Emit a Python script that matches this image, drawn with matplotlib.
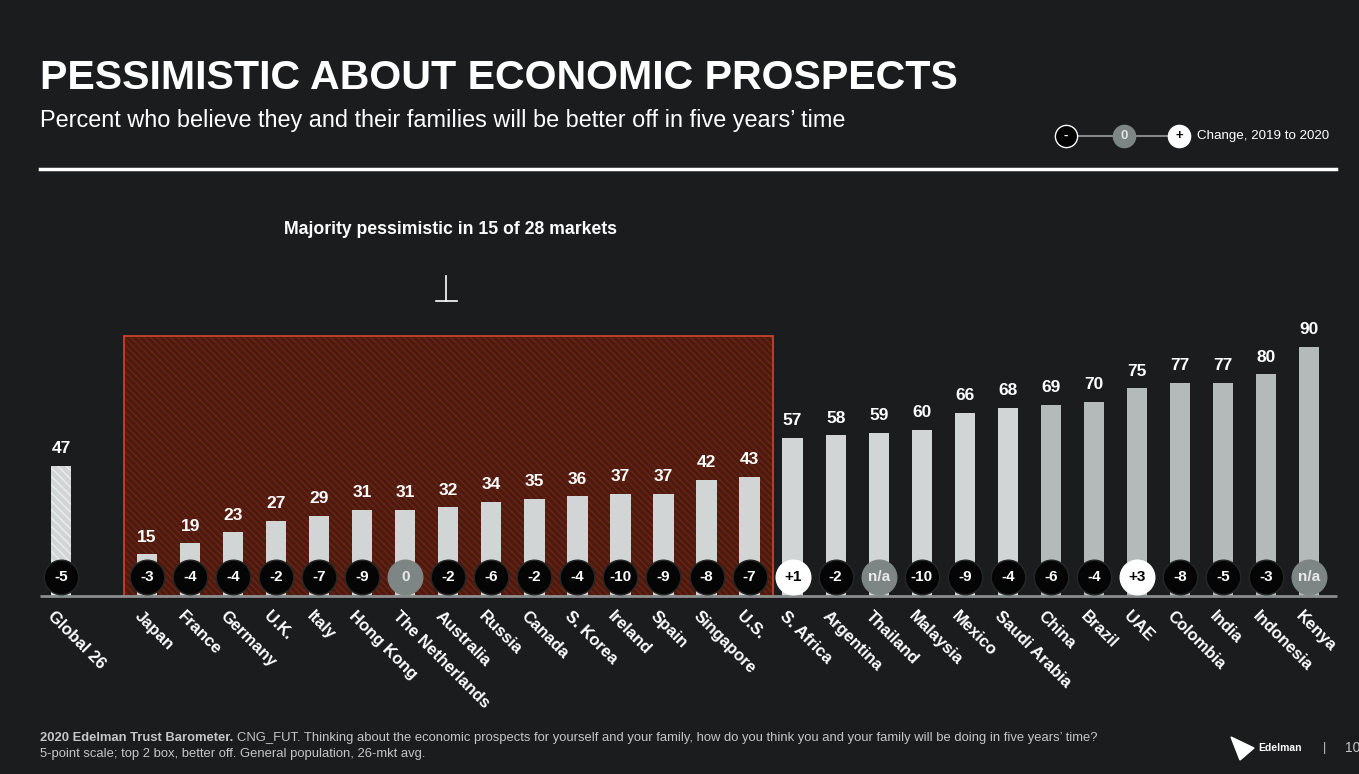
import matplotlib
matplotlib.use("Agg")
import matplotlib.pyplot as plt
from matplotlib.patches import Rectangle

plt.rcParams['font.family'] = ['Liberation Sans', 'DejaVu Sans']
plt.rcParams['hatch.linewidth'] = 1.0

markets = ["Global 26", "Japan", "France", "Germany", "U.K.", "Italy", "Hong Kong",
           "The Netherlands", "Australia", "Russia", "Canada", "S. Korea", "Ireland",
           "Spain", "Singapore", "U.S.", "S. Africa", "Argentina", "Thailand", "Malaysia",
           "Mexico", "Saudi Arabia", "China", "Brazil", "UAE", "Colombia", "India",
           "Indonesia", "Kenya"]
values = [47, 15, 19, 23, 27, 29, 31, 31, 32, 34, 35, 36, 37, 37, 42, 43,
          57, 58, 59, 60, 66, 68, 69, 70, 75, 77, 77, 80, 90]
changes = ["-5", "-3", "-4", "-4", "-2", "-7", "-9", "0", "-2", "-6", "-2", "-4", "-10",
           "-9", "-8", "-7", "+1", "-2", "n/a", "-10", "-9", "-4", "-6", "-4", "+3",
           "-8", "-5", "-3", "n/a"]
# slot positions: one empty slot between Global and the markets
positions = [0] + list(range(2, 30))

BG = "#1a1c1e"
LIGHT = "#d1d5d5"
DARK = "#b4bab9"
GREY_DOT = "#7d8684"
FOOT = "#c4c7c8"

fig = plt.figure(figsize=(13.59, 7.74), dpi=100, facecolor=BG)
ax = fig.add_axes([40 / 1359, 178 / 774, 1297 / 1359, 277 / 774])
ax.set_facecolor(BG)
ax.set_xlim(-0.488, 29.65)
ax.set_ylim(0, 100)
for s in ax.spines.values():
    s.set_visible(False)
ax.set_xticks([])
ax.set_yticks([])

# red highlighted region (majority pessimistic)
ax.add_patch(Rectangle((1.46, 0), 16.55 - 1.46, 93.9, facecolor="#4d1a0f",
                       edgecolor="#6a2515", hatch="\\\\\\\\\\", lw=0, zorder=1))
ax.add_patch(Rectangle((1.46, 0), 16.55 - 1.46, 93.9, fill=False,
                       edgecolor="#d2452f", lw=1.2, zorder=2))

bar_colors = [LIGHT] * 22 + [DARK] * 7
bars = ax.bar(positions, values, width=0.47, color=bar_colors, zorder=3)
bars[0].set_hatch("\\\\\\\\")
bars[0].set_edgecolor("#eceeee")
bars[0].set_linewidth(0)

ax.plot([-0.488, 29.65], [0, 0], color="#8a8d8e", lw=2, zorder=4,
        clip_on=False, solid_capstyle="butt")

for x, v in zip(positions, values):
    ax.annotate(str(v), (x, v), xytext=(0, 7), textcoords="offset points",
                ha="center", va="bottom", color="white", fontsize=12.5,
                fontweight="bold", zorder=6)

for x, c in zip(positions, changes):
    if c.startswith("+"):
        fc, tc, ec = "white", "black", "white"
    elif c in ("0", "n/a"):
        fc, tc, ec = GREY_DOT, "#e8eaea", GREY_DOT
    else:
        fc, tc, ec = "#050505", "white", "#262828"
    ax.scatter([x], [6.9], s=620, color=fc, edgecolors=ec, linewidths=1, zorder=7)
    ax.text(x, 6.9, c, ha="center", va="center", color=tc, fontsize=11,
            fontweight="bold", zorder=8)

for x, m in zip(positions, markets):
    ax.text(x - 0.12, -4.5, m, rotation=-45, rotation_mode="anchor", ha="left",
            va="top", color="white", fontsize=12, fontweight="bold")

# headings
fig.text(40 / 1359, 1 - 78 / 774, "PESSIMISTIC ABOUT ECONOMIC PROSPECTS", color="white",
         fontsize=29.6, fontweight="bold", va="center", ha="left")
fig.text(40 / 1359, 1 - 120 / 774,
         "Percent who believe they and their families will be better off in five years\u2019 time",
         color="white", fontsize=16.9, va="center", ha="left")
fig.add_artist(plt.Line2D([40 / 1359, 1336 / 1359], [1 - 169 / 774, 1 - 169 / 774],
                          color="white", lw=2.5))

# legend
ly = 1 - 136 / 774
fig.add_artist(plt.Line2D([1066 / 1359, 1179 / 1359], [ly, ly], color="#9a9d9e", lw=1.2))
for lx, fc, ec, t, tc in [(1066, "black", "white", "-", "white"),
                          (1124, GREY_DOT, GREY_DOT, "0", "#dfe2e2"),
                          (1179, "white", "white", "+", "black")]:
    fig.add_artist(plt.Line2D([lx / 1359], [ly], marker="o", markersize=16,
                              markerfacecolor=fc, markeredgecolor=ec, markeredgewidth=1))
    fig.text(lx / 1359, ly, t, ha="center", va="center", color=tc, fontsize=9.5,
             fontweight="bold")
fig.text(1197 / 1359, ly, "Change, 2019 to 2020", color="white", fontsize=9.6,
         va="center", ha="left")

# annotation
fig.text(450 / 1359, 1 - 229 / 774, "Majority pessimistic in 15 of 28 markets",
         color="white", fontsize=12.7, fontweight="bold", ha="center", va="center")
fig.add_artist(plt.Line2D([446 / 1359, 446 / 1359], [1 - 276 / 774, 1 - 301 / 774],
                          color="white", lw=1.2))
fig.add_artist(plt.Line2D([436 / 1359, 457 / 1359], [1 - 301 / 774, 1 - 301 / 774],
                          color="white", lw=1.2))

# footer
src = fig.text(40 / 1359, 1 - 738 / 774, "2020 Edelman Trust Barometer.", color=FOOT,
               fontsize=9.4, fontweight="bold", va="center", ha="left")
fig.add_artist(plt.Annotation(
    "CNG_FUT. Thinking about the economic prospects for yourself and your family, "
    "how do you think you and your family will be doing in five years\u2019 time?",
    xy=(1, 0.5), xycoords=src, xytext=(3, 0), textcoords="offset points",
    color=FOOT, fontsize=9.4, va="center", ha="left"))
fig.text(40 / 1359, 1 - 754 / 774,
         "5-point scale; top 2 box, better off. General population, 26-mkt avg.",
         color=FOOT, fontsize=9.4, va="center", ha="left")
fig.text(1258 / 1359, 1 - 748 / 774, "Edelman", color="white", fontsize=7.5,
         fontweight="bold", va="center", ha="left")
fig.add_artist(plt.Polygon([[1231 / 1359, 1 - 737 / 774], [1254 / 1359, 1 - 748 / 774],
                            [1240 / 1359, 1 - 760 / 774]], closed=True, color="white"))
fig.text(1323 / 1359, 1 - 748 / 774, "|", color=FOOT, fontsize=9, va="center")
fig.text(1345 / 1359, 1 - 748 / 774, "10", color=FOOT, fontsize=10, va="center")

fig.savefig("out.png", dpi=100, facecolor=BG)
